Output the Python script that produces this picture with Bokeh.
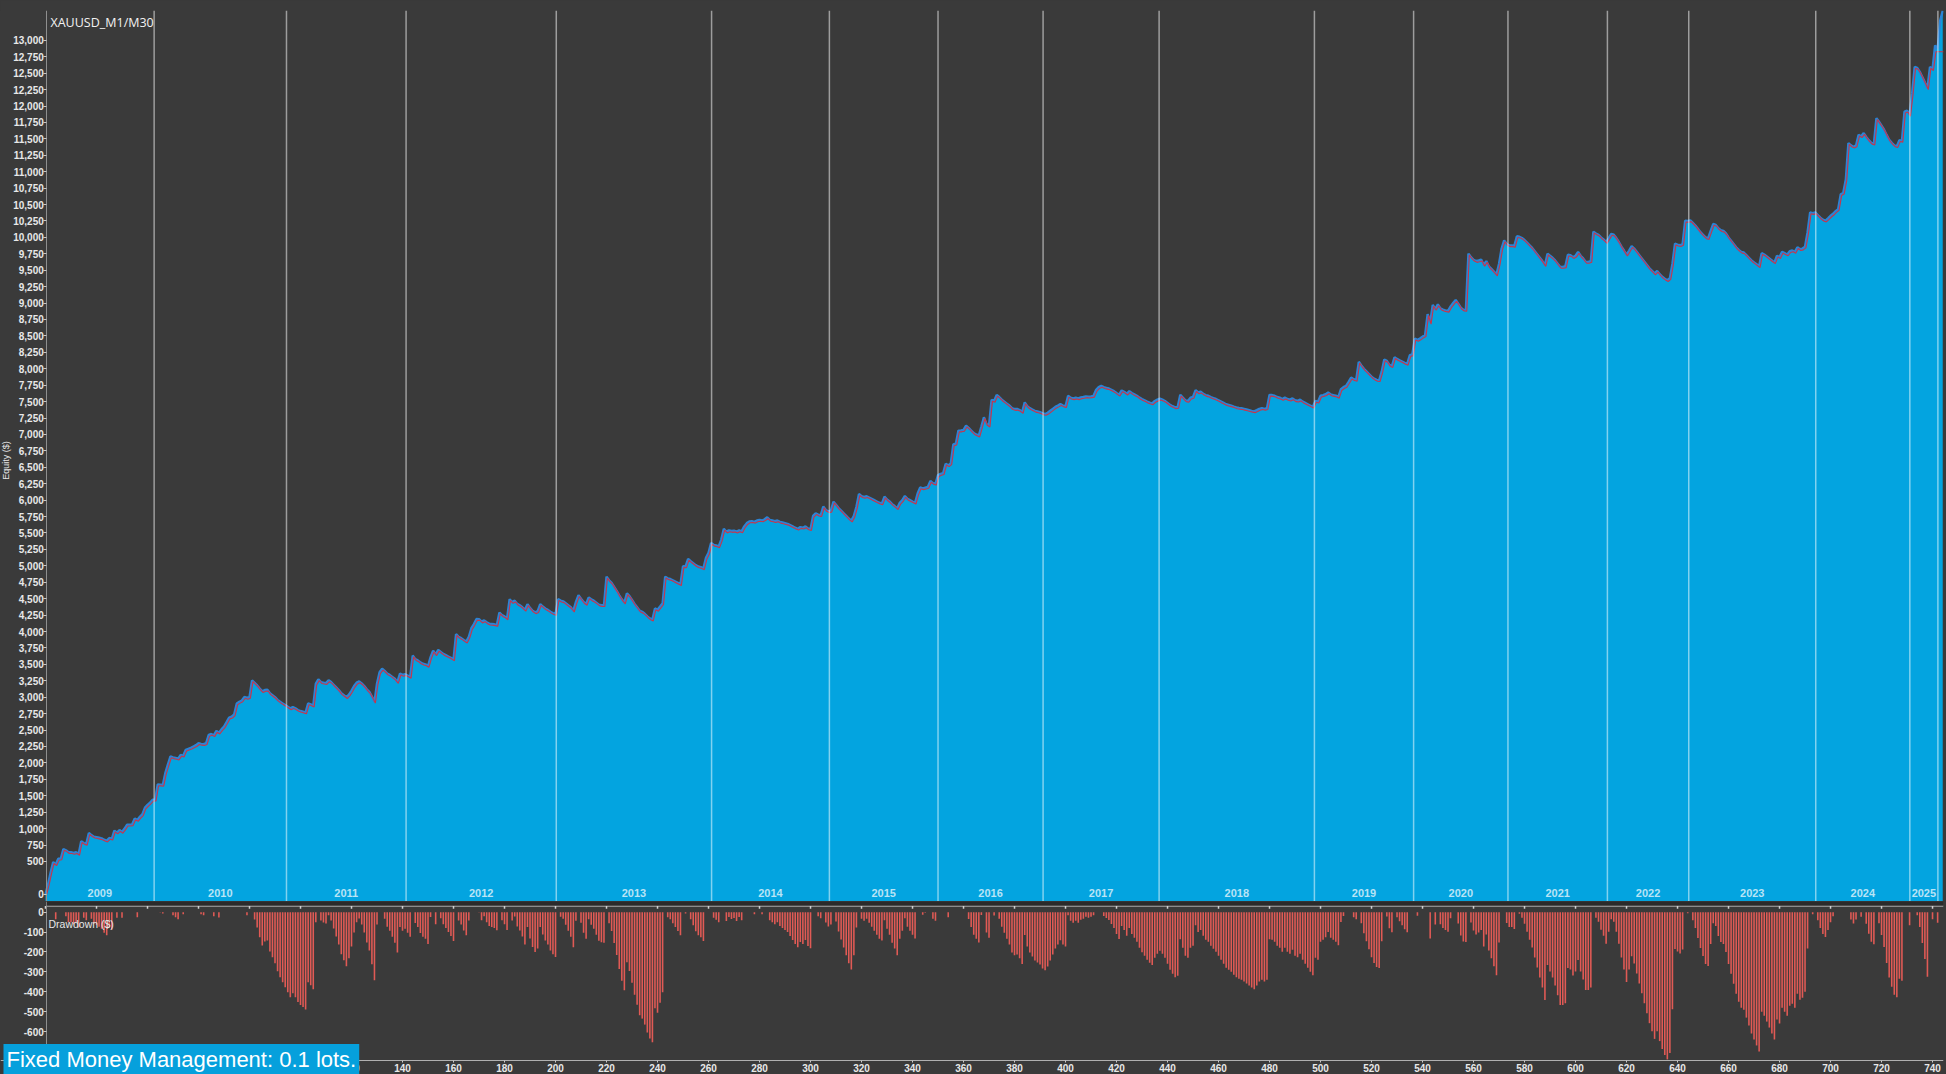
import numpy as np
from bokeh.plotting import figure
from bokeh.models import (Range1d, FixedTicker, NumeralTickFormatter, Span, Label,
                          BoxAnnotation, GlobalInlineStyleSheet)
from bokeh.layouts import column
from bokeh.embed import file_html
from bokeh.resources import INLINE
from bokeh.core.properties import value

# ---------------- data ----------------
chart_title = "XAUUSD_M1/M30"
mm_text = "Fixed Money Management: 0.1 lots."

# equity ($) after each trade, trade 0..744
equity = [
    0, 150, 330, 490, 455, 540, 545, 690, 670, 640,
    640, 630, 640, 615, 808, 780, 768, 933, 900, 877,
    870, 860, 850, 830, 817, 857, 845, 968, 940, 978,
    950, 1000, 1059, 1060, 1065, 1155, 1130, 1180, 1219, 1320,
    1360, 1396, 1440, 1440, 1672, 1670, 1665, 1850, 1976, 2100,
    2085, 2075, 2065, 2120, 2110, 2200, 2215, 2230, 2250, 2270,
    2300, 2290, 2285, 2300, 2427, 2440, 2420, 2487, 2460, 2510,
    2552, 2620, 2690, 2703, 2740, 2905, 2930, 2950, 3005, 2990,
    3005, 3257, 3220, 3180, 3131, 3090, 3110, 3115, 3060, 3030,
    3000, 2960, 2930, 2905, 2880, 2855, 2830, 2850, 2830, 2805,
    2790, 2780, 2768, 2905, 2890, 2870, 3207, 3272, 3230, 3220,
    3215, 3257, 3230, 3190, 3150, 3110, 3060, 3030, 3000, 3040,
    3100, 3170, 3222, 3240, 3210, 3170, 3120, 3080, 3010, 2930,
    3210, 3380, 3433, 3400, 3360, 3340, 3310, 3280, 3230, 3358,
    3340, 3350, 3330, 3310, 3634, 3580, 3560, 3530, 3510, 3500,
    3474, 3610, 3710, 3650, 3720, 3690, 3660, 3640, 3620, 3600,
    3575, 3962, 3920, 3900, 3870, 3846, 3920, 4050, 4114, 4190,
    4189, 4150, 4170, 4140, 4120, 4115, 4110, 4099, 4290, 4250,
    4230, 4200, 4492, 4450, 4470, 4420, 4400, 4370, 4330, 4417,
    4360, 4317, 4292, 4310, 4417, 4380, 4350, 4330, 4300, 4280,
    4267, 4493, 4470, 4460, 4430, 4400, 4370, 4317, 4450, 4553,
    4500, 4450, 4420, 4518, 4490, 4470, 4440, 4410, 4402, 4400,
    4835, 4780, 4740, 4680, 4620, 4550, 4490, 4442, 4583, 4540,
    4480, 4420, 4370, 4317, 4300, 4270, 4230, 4200, 4181, 4352,
    4330, 4380, 4432, 4835, 4810, 4800, 4780, 4760, 4740, 4719,
    4996, 4990, 5106, 5070, 5040, 5010, 4990, 4980, 4961, 5121,
    5200, 5348, 5320, 5310, 5297, 5400, 5564, 5520, 5540, 5530,
    5535, 5520, 5540, 5524, 5600, 5650, 5675, 5680, 5670, 5690,
    5700, 5690, 5710, 5740, 5700, 5690, 5680, 5690, 5670, 5660,
    5650, 5640, 5620, 5600, 5580, 5564, 5590, 5580, 5600, 5570,
    5559, 5760, 5800, 5780, 5770, 5902, 5850, 5830, 5840, 5977,
    5930, 5880, 5840, 5800, 5760, 5720, 5689, 5760, 5900, 6093,
    6060, 6050, 6060, 6040, 6020, 6000, 5980, 5960, 5951, 6053,
    6010, 5980, 5940, 5910, 5876, 5960, 6000, 6063, 6020, 6000,
    5980, 5961, 6100, 6193, 6180, 6190, 6200, 6293, 6260, 6250,
    6380, 6400, 6410, 6555, 6530, 6560, 6847, 6860, 7059, 7060,
    7070, 7134, 7100, 7060, 7020, 7000, 6982, 7120, 7262, 7160,
    7134, 7527, 7510, 7603, 7570, 7530, 7500, 7470, 7440, 7400,
    7387, 7390, 7372, 7342, 7488, 7430, 7400, 7380, 7360, 7350,
    7340, 7320, 7311, 7330, 7360, 7390, 7420, 7440, 7462, 7440,
    7430, 7588, 7560, 7550, 7560, 7550, 7565, 7570, 7580, 7575,
    7580, 7588, 7680, 7720, 7739, 7720, 7710, 7700, 7680, 7660,
    7630, 7604, 7670, 7650, 7620, 7660, 7630, 7610, 7590, 7560,
    7538, 7520, 7500, 7485, 7473, 7510, 7530, 7545, 7530, 7510,
    7480, 7450, 7430, 7412, 7420, 7603, 7560, 7520, 7510, 7560,
    7570, 7674, 7640, 7650, 7620, 7600, 7590, 7570, 7555, 7540,
    7520, 7500, 7480, 7460, 7450, 7440, 7425, 7412, 7405, 7400,
    7390, 7380, 7370, 7360, 7352, 7370, 7390, 7400, 7390, 7400,
    7603, 7600, 7590, 7570, 7560, 7540, 7560, 7540, 7530, 7550,
    7520, 7513, 7530, 7500, 7480, 7460, 7440, 7422, 7510, 7500,
    7590, 7600, 7613, 7640, 7610, 7600, 7590, 7573, 7690, 7720,
    7739, 7800, 7865, 7840, 7830, 8106, 8050, 8000, 7960, 7920,
    7880, 7850, 7830, 7825, 7960, 8141, 8120, 8060, 8040, 8176,
    8150, 8130, 8110, 8090, 8075, 8206, 8220, 8458, 8440, 8460,
    8490, 8510, 8832, 8700, 8972, 8910, 8980, 8920, 8900, 8890,
    8882, 8950, 9000, 9047, 8990, 8930, 8900, 8897, 9752, 9700,
    9660, 9640, 9650, 9662, 9580, 9640, 9560, 9520, 9480, 9435,
    9600, 9830, 9954, 9900, 9880, 9879, 9870, 10018, 10010, 9990,
    9960, 9920, 9880, 9840, 9790, 9740, 9690, 9640, 9577, 9752,
    9720, 9690, 9650, 9600, 9551, 9551, 9560, 9737, 9730, 9700,
    9720, 9778, 9720, 9680, 9627, 9627, 9640, 10088, 10060, 10040,
    10000, 9970, 9929, 9990, 10053, 10040, 9990, 9930, 9860, 9800,
    9737, 9800, 9867, 9830, 9780, 9730, 9680, 9630, 9580, 9530,
    9490, 9451, 9490, 9440, 9400, 9370, 9348, 9380, 9600, 9903,
    9890, 9880, 9900, 10255, 10250, 10260, 10220, 10180, 10130, 10080,
    10040, 10000, 9989, 10100, 10205, 10190, 10140, 10110, 10100, 10060,
    10000, 9950, 9900, 9850, 9810, 9780, 9770, 9730, 9690, 9650,
    9620, 9590, 9560, 9760, 9740, 9710, 9680, 9650, 9620, 9720,
    9700, 9780, 9760, 9740, 9790, 9800, 9780, 9850, 9820, 9830,
    9860, 10078, 10380, 10370, 10380, 10340, 10300, 10270, 10255, 10290,
    10330, 10360, 10400, 10431, 10657, 10680, 10884, 11437, 11400, 11380,
    11400, 11563, 11540, 11588, 11530, 11480, 11440, 11427, 11815, 11760,
    11700, 11640, 11560, 11487, 11440, 11400, 11387, 11480, 11470, 11915,
    11930, 11865, 12192, 12595, 12580, 12520, 12440, 12360, 12270, 12595,
    12560, 12923, 12870, 13300, 13450,
]
# closed-trade balance differs from equity only on the last open position
balance_tail = [12845, 12845, 12845, 12845]

years = ["2009", "2010", "2011", "2012", "2013", "2014", "2015", "2016", "2017",
         "2018", "2019", "2020", "2021", "2022", "2023", "2024", "2025"]
# trade number at which each year ends
year_ends = [42.6, 94.5, 141.4, 200.3, 261.2, 307.4, 350.0, 391.2, 436.7,
             497.6, 536.5, 573.5, 612.5, 644.4, 694.2, 731.1, 742.1]

equity_ticks = [0] + list(range(500, 13001, 250))
dd_ticks = [0, -100, -200, -300, -400, -500, -600]
trade_ticks = list(range(0, 741, 20))

# ---------------- derived ----------------
trades = np.arange(len(equity))
eq = np.array(equity, dtype=float)
balance = np.array(equity[:len(equity) - len(balance_tail)] + balance_tail, dtype=float)
drawdown = eq - np.maximum.accumulate(eq)
year_starts = [0.0] + year_ends[:-1]
year_mid = [(a + b) / 2 for a, b in zip(year_starts, year_ends)]

# ---------------- style ----------------
BG = "#3a3a3a"
STRIP = "#2b2b2b"
BLUE = "#03a4e0"
EDGE = "#2a84d6"
RED = "#c8354a"
BAR = "#e05a55"
TXT = "#e8e8e8"
AX = "#8f8f8f"
TICK_FONT = "Liberation Sans"
W = 1946

X_START, X_END = -17.65, 744.3
xr = Range1d(X_START, X_END)
Y_AXIS_AT = 0.5


def style_axis(ax, size="10px"):
    ax.major_label_text_font = TICK_FONT
    ax.major_label_text_font_style = "bold"
    ax.major_label_text_font_size = size
    ax.major_label_text_color = TXT
    ax.major_tick_out = 3
    ax.major_tick_in = 0
    ax.minor_tick_out = 0
    ax.minor_tick_in = 0
    ax.major_label_standoff = 0
    ax.axis_line_color = AX
    ax.major_tick_line_color = "#c8c8c8"


# ---- upper equity panel ----
EQ_BOTTOM = -110
p1 = figure(width=W, height=901, x_range=xr, y_range=Range1d(EQ_BOTTOM, 13454),
            output_backend="svg", toolbar_location=None,
            min_border_left=0, min_border_right=3, min_border_top=10, min_border_bottom=0)
p1.background_fill_color = BG
p1.border_fill_color = BG
p1.outline_line_color = None
p1.grid.visible = False
p1.xaxis.visible = False

p1.varea(x=trades, y1=EQ_BOTTOM, y2=eq, fill_color=BLUE, fill_alpha=1.0)
p1.line(trades, eq, line_color=EDGE, line_width=2.4)
p1.line(trades + 0.35, balance - 20, line_color=RED, line_width=1.1)

for b in year_ends:
    p1.add_layout(Span(location=b, dimension="height", line_color="white",
                       line_alpha=0.5, line_width=1.5))

p1.text(x=year_mid, y=[20] * len(years), text=years,
        text_font=value(TICK_FONT), text_font_style="bold", text_font_size="11px",
        text_color="white", text_alpha=0.72, text_align="center", text_baseline="middle")

ya = p1.yaxis[0]
ya.ticker = FixedTicker(ticks=equity_ticks)
ya.formatter = NumeralTickFormatter(format="0,0")
ya.fixed_location = Y_AXIS_AT
style_axis(ya)

p1.add_layout(Label(x=50, y=888, x_units="screen", y_units="screen", text=chart_title,
                    text_font="Open Sans", text_font_size="12.5px",
                    text_color="#f2f2f2", text_baseline="top", text_align="left"))
p1.add_layout(Label(x=5, y=441, x_units="screen", y_units="screen", text="Equity ($)",
                    angle=90, angle_units="deg", text_font=TICK_FONT,
                    text_font_size="9px", text_color=TXT,
                    text_align="center", text_baseline="middle"))

# ---- lower drawdown panel ----
DD_BOTTOM = -746
p2 = figure(width=W, height=173, x_range=xr, y_range=Range1d(-816, 53.8),
            output_backend="svg", toolbar_location=None,
            min_border_left=0, min_border_right=3, min_border_top=0, min_border_bottom=0)
p2.background_fill_color = BG
p2.border_fill_color = BG
p2.outline_line_color = None
p2.grid.visible = False

# dark separator strip and ruler between the two panels
RULER_Y = 31
p2.add_layout(BoxAnnotation(bottom=RULER_Y + 2.5, left=Y_AXIS_AT, fill_color=STRIP,
                            fill_alpha=1.0, line_color=None))
p2.segment(x0=[Y_AXIS_AT], y0=[RULER_Y], x1=[X_END], y1=[RULER_Y],
           line_color="#a8a8a8", line_width=1.2)
p2.segment(x0=trade_ticks, y0=[RULER_Y] * len(trade_ticks), x1=trade_ticks,
           y1=[RULER_Y - 14] * len(trade_ticks), line_color="#d0d0d0", line_width=1.5)

p2.vbar(x=trades, top=0, bottom=drawdown, width=0.62, fill_color=BAR, line_color=None)

xa = p2.xaxis[0]
xa.ticker = FixedTicker(ticks=trade_ticks)
xa.fixed_location = DD_BOTTOM
style_axis(xa, "10px")
xa.major_tick_out = 2
xa.major_label_standoff = 1
xa.axis_line_color = "#b0b0b0"

yb = p2.yaxis[0]
yb.ticker = FixedTicker(ticks=dd_ticks)
yb.formatter = NumeralTickFormatter(format="0")
yb.fixed_location = Y_AXIS_AT
style_axis(yb)

p2.add_layout(Label(x=48, y=157, x_units="screen", y_units="screen", text="Drawdown ($)",
                    text_font=TICK_FONT, text_font_size="10.5px",
                    text_color=TXT, text_baseline="top", text_align="left"))
p2.add_layout(Label(x=3, y=15, x_units="screen", y_units="screen", text=mm_text,
                    text_font=TICK_FONT, text_font_size="22px",
                    text_color="white", background_fill_color="#06a0dc",
                    padding=3, text_baseline="alphabetic", text_align="left",
                    level="overlay"))

layout = column(p1, p2, spacing=0)
try:
    layout.stylesheets = [GlobalInlineStyleSheet(css="body{background-color:#3a3a3a;}")]
except Exception:
    pass

open("out.html", "w").write(file_html(layout, INLINE))
